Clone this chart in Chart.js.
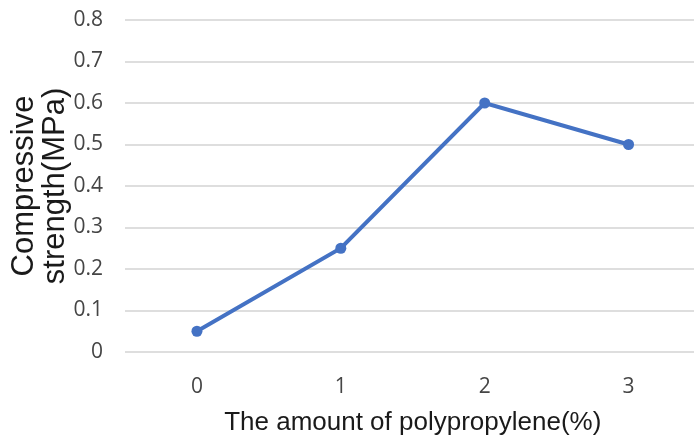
<!DOCTYPE html>
<html>
<head>
<meta charset="utf-8">
<script src="https://cdn.jsdelivr.net/npm/chart.js@4"></script>
<style>
  html, body { margin: 0; padding: 0; background: #fff; overflow: hidden; }
  #wrap { position: relative; width: 706px; height: 443px; }
</style>
</head>
<body>
<div id="wrap"><canvas id="chart"></canvas></div>
<script>
// values
const amounts = ['0', '1', '2', '3'];
const strength = [0.05, 0.25, 0.6, 0.5];
const yMin = 0;
const yMax = 0.8;
const yStep = 0.1;
const xTitle = 'The amount of polypropylene(%)';
const yTitle = ['Compressive', 'strength(MPa)'];

const blue = '#4472C4';

new Chart(document.getElementById('chart'), {
  type: 'line',
  data: {
    labels: amounts,
    datasets: [
      {
        label: 'Compressive strength',
        data: strength,
        borderColor: blue,
        backgroundColor: blue,
        borderWidth: 4,
        pointRadius: 5.5,
        pointBorderWidth: 0,
        pointBackgroundColor: blue,
        tension: 0,
        fill: false
      }
    ]
  },
  options: {
    responsive: true,
    maintainAspectRatio: false,
    animation: false,
    layout: { padding: { top: 20, right: 1, left: 0, bottom: 0 } },
    plugins: {
      legend: { display: false },
      tooltip: { enabled: false }
    },
    scales: {
      x: {
        offset: true,
        grid: { display: false, drawTicks: false },
        border: { display: false },
        ticks: {
          padding: 22,
          color: '#454545',
          font: { family: '"Open Sans", sans-serif', size: 21 }
        },
        title: {
          display: true,
          text: xTitle,
          color: '#1a1a1a',
          font: { family: '"Liberation Sans", Arial, sans-serif', size: 26, lineHeight: 1.15 },
          padding: { top: 0, bottom: 5 }
        },
        afterFit: (scale) => { scale.height = 91; }
      },
      y: {
        min: yMin,
        max: yMax,
        grid: { color: '#dedede', lineWidth: 2, drawTicks: false },
        border: { display: false },
        ticks: {
          stepSize: yStep,
          padding: 22,
          color: '#454545',
          font: { family: '"Open Sans", sans-serif', size: 21 },
          callback: (v) => v === 0 ? '0' : v.toFixed(1)
        },
        title: {
          display: true,
          text: yTitle,
          color: '#1a1a1a',
          font: { family: '"Liberation Sans", Arial, sans-serif', size: 31, lineHeight: 1.0 },
          padding: { top: 9, bottom: 0 }
        },
        afterFit: (scale) => {
          scale.width = 125;
          // tick padding should not push the plot down
          scale.paddingTop = 0;
          scale.paddingBottom = 0;
        }
      }
    }
  }
});
</script>
</body>
</html>
